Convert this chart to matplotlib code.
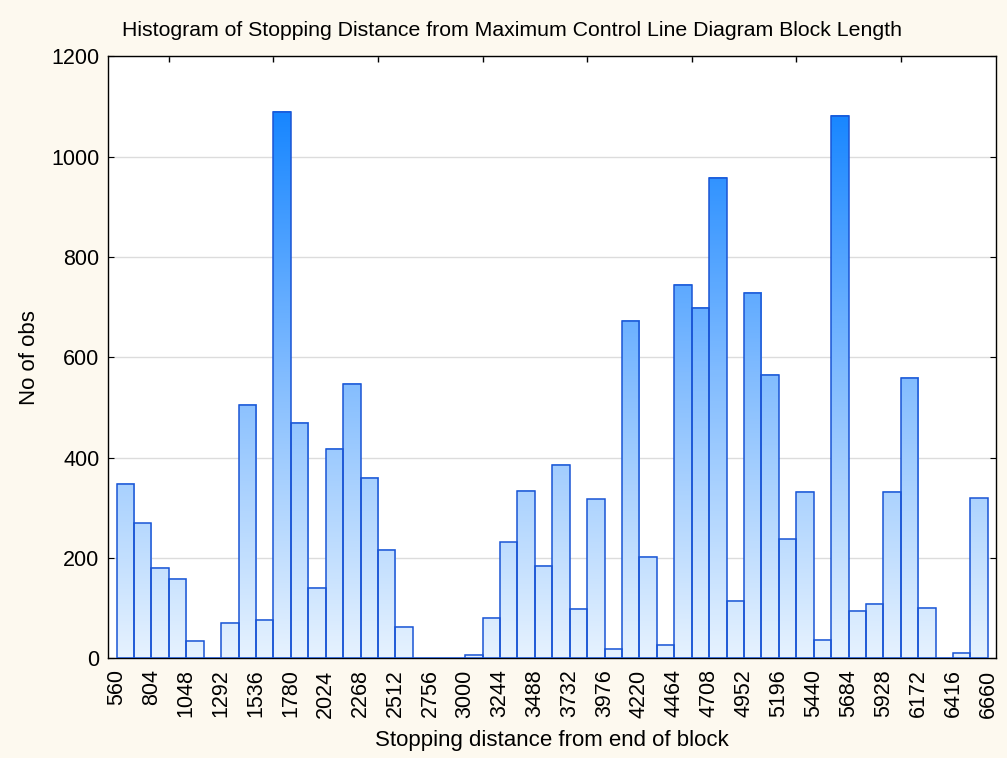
import numpy as np
import matplotlib
matplotlib.use("Agg")
import matplotlib.pyplot as plt
from matplotlib.colors import LinearSegmentedColormap, Normalize

# ── Data ──────────────────────────────────────────────────────────────────────
bin_edges = [560, 682, 804, 926, 1048, 1170, 1292, 1414, 1536, 1658, 1780,
             1902, 2024, 2146, 2268, 2390, 2512, 2634, 2756, 2878, 3000,
             3122, 3244, 3366, 3488, 3610, 3732, 3854, 3976, 4098, 4220,
             4342, 4464, 4586, 4708, 4830, 4952, 5074, 5196, 5318, 5440,
             5562, 5684, 5806, 5928, 6050, 6172, 6294, 6416, 6538, 6660]

counts = [348, 269, 181, 158, 34, 0, 71, 506, 76, 1089,
          470, 140, 418, 547, 359, 216, 62, 0, 0, 0,
          6, 81, 231, 334, 185, 385, 98, 317, 19, 673,
          203, 27, 745, 698, 958, 114, 729, 565, 237, 331,
          37, 1082, 94, 109, 331, 559, 101, 0, 11, 319]

tick_labels = [560, 804, 1048, 1292, 1536, 1780, 2024, 2268, 2512, 2756,
               3000, 3244, 3488, 3732, 3976, 4220, 4464, 4708, 4952, 5196,
               5440, 5684, 5928, 6172, 6416, 6660]

minor_ticks = [560, 926, 1292, 1658, 2024, 2390, 2756, 3122, 3488, 3854,
               4220, 4586, 4952, 5318, 5684, 6050, 6416]

y_ticks = [0, 200, 400, 600, 800, 1000, 1200]

# ── Style ─────────────────────────────────────────────────────────────────────
plt.rcParams["font.family"] = ["Liberation Sans", "DejaVu Sans"]
FIG_BG = "#fdf9ef"
EDGE = "#1a55d5"
cmap = LinearSegmentedColormap.from_list(
    "statblue",
    [(0.0, "#e6f2fe"), (0.52, "#80bbff"), (1.0, "#1585ff")],
)
norm = Normalize(vmin=0, vmax=1100)

fig = plt.figure(figsize=(10.07, 7.58), dpi=100, facecolor=FIG_BG)
ax = fig.add_axes([0.107, 0.1315, 0.882, 0.794])
ax.set_facecolor("white")

lefts = bin_edges[:-1]
widths = np.diff(bin_edges)

# gradient fill, shaded by absolute height
for x0, w, h in zip(lefts, widths, counts):
    if h <= 0:
        continue
    grad = np.linspace(0, h, 256).reshape(-1, 1)
    ax.imshow(grad, extent=[x0, x0 + w, 0, h], origin="lower",
              cmap=cmap, norm=norm, aspect="auto", zorder=2,
              interpolation="bilinear")

ax.bar(lefts, counts, width=widths, align="edge", fill=False,
       edgecolor=EDGE, linewidth=1.1, zorder=3)

ax.set_xlim(bin_edges[0] - 62, bin_edges[-1] + 56)
ax.set_ylim(0, 1200)

# grid
ax.set_yticks(y_ticks)
ax.yaxis.grid(True, color="#dcdcdc", linewidth=1.0, zorder=0)
ax.set_axisbelow(True)

# ticks
ax.set_xticks(tick_labels)
ax.set_xticklabels([str(t) for t in tick_labels], rotation=90)
ax.set_xticks(minor_ticks, minor=True)
ax.tick_params(axis="x", which="major", length=0, pad=8, labelsize=15.5)
ax.tick_params(axis="x", which="minor", direction="in", length=4,
               top=True, bottom=True, width=1)
ax.tick_params(axis="y", direction="in", length=4, right=True,
               labelsize=15.5, pad=6)

for s in ax.spines.values():
    s.set_color("black")
    s.set_linewidth(1.0)

fig.text(512 / 1007, 1 - 30 / 758, "Histogram of Stopping Distance from Maximum "
         "Control Line Diagram Block Length", ha="center", va="center",
         fontsize=15.3)
ax.set_xlabel("Stopping distance from end of block", fontsize=16, labelpad=9)
ax.set_ylabel("No of obs", fontsize=16, labelpad=8)

fig.savefig("out.png", dpi=100, facecolor=FIG_BG)
